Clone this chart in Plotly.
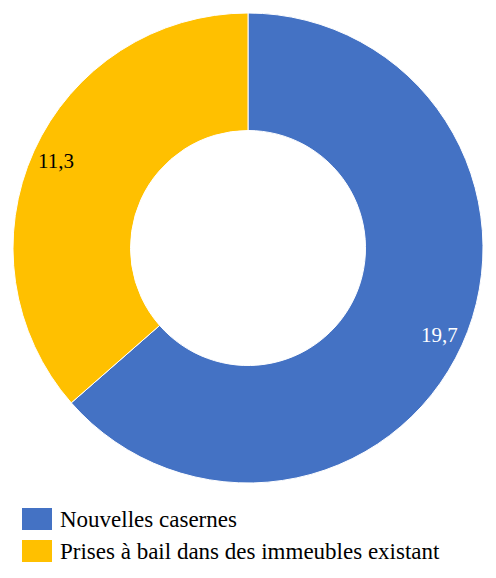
import math
import plotly.graph_objects as go

categories = ["Nouvelles casernes", "Prises à bail dans des immeubles existant"]
values = [19.7, 11.3]
colors = ["#4472C4", "#FFC000"]
label_colors = ["white", "black"]

OFF = 8  # page body margin
W, H = 496 - OFF, 578 - OFF
cx, cy, R = 248 - OFF, 248 - OFF, 235
hole = 0.5
label_r = 0.895 * R
FONT = "Palatino Linotype, Book Antiqua, Palatino, Liberation Serif, serif"
FS_LEG = 23
FS_LAB = 21

fig = go.Figure(go.Pie(
    labels=categories, values=values, hole=hole, sort=False,
    direction="clockwise", rotation=0,
    marker=dict(colors=colors, line=dict(color="white", width=1)),
    textinfo="none", hoverinfo="label+value", showlegend=False,
    domain=dict(x=[(cx - R) / W, (cx + R) / W], y=[1 - (cy + R) / H, 1 - (cy - R) / H]),
))

total = sum(values)
cum = 0
annotations = []
for v, lc in zip(values, label_colors):
    theta = 2 * math.pi * (cum + v / 2) / total
    cum += v
    px = cx + label_r * math.sin(theta)
    py = cy - label_r * math.cos(theta)
    annotations.append(dict(
        x=px / W, y=1 - py / H, xref="paper", yref="paper", showarrow=False,
        text=f"{v:.1f}".replace(".", ","), font=dict(family=FONT, size=FS_LAB, color=lc),
        xanchor="center", yanchor="middle",
    ))

shapes = []
for i, (cat, col) in enumerate(zip(categories, colors)):
    top = 508 - OFF + 32 * i
    shapes.append(dict(type="rect", xref="paper", yref="paper",
                       x0=(22 - OFF) / W, x1=(52 - OFF) / W, y0=1 - (top + 22) / H, y1=1 - top / H,
                       fillcolor=col, line=dict(width=0)))
    annotations.append(dict(x=(58 - OFF) / W, y=1 - (top + 11) / H, xref="paper", yref="paper",
                            showarrow=False, text=cat, xanchor="left", yanchor="middle",
                            font=dict(family=FONT, size=FS_LEG, color="black")))

fig.update_layout(
    width=W, height=H, margin=dict(l=0, r=0, t=0, b=0),
    paper_bgcolor="white", plot_bgcolor="white",
    annotations=annotations, shapes=shapes,
)
fig.write_html("out.html")
